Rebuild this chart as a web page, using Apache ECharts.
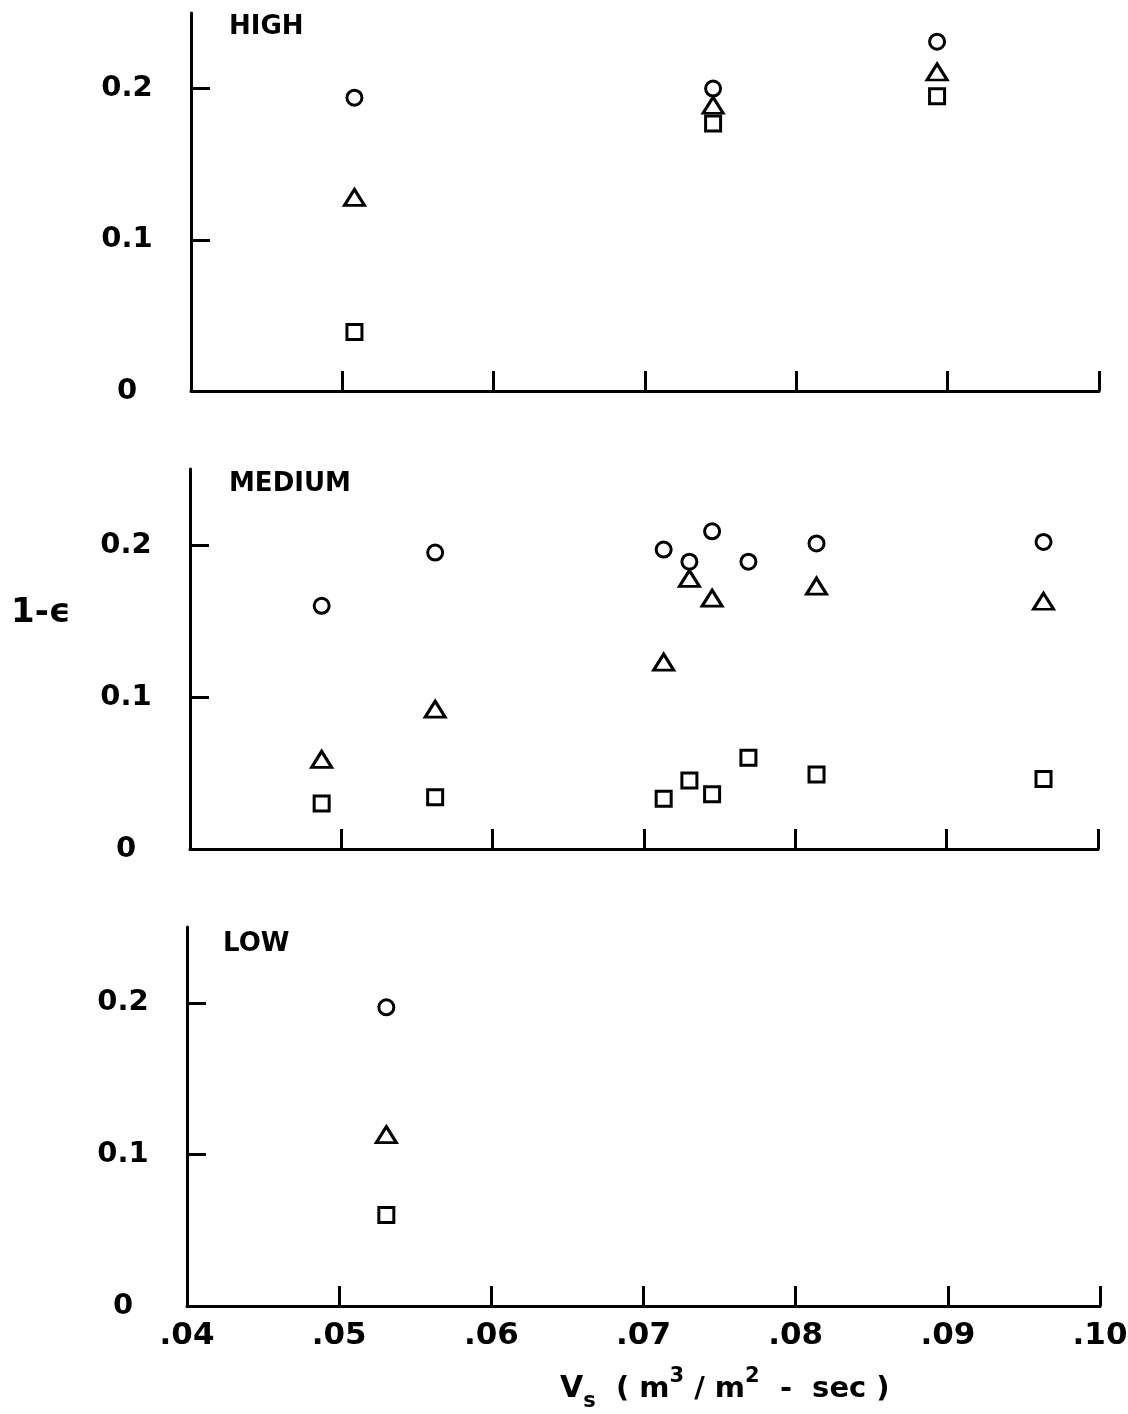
<!DOCTYPE html>
<html>
<head>
<meta charset="utf-8">
<title>1-ε versus Vs</title>
<script src="https://cdn.jsdelivr.net/npm/echarts@6/dist/echarts.min.js"></script>
<style>
  html, body { margin: 0; padding: 0; background: #fff; }
  #chart { width: 1128px; height: 1414px; }
</style>
</head>
<body>
<div id="chart"></div>
<script>
// Superficial velocity Vs (m3/m2-sec) and holdup 1-ε for three levels
const panelNames = ['HIGH', 'MEDIUM', 'LOW'];

const highVs       = [0.0508, 0.0745, 0.0893];
const highCircle   = [0.194, 0.200, 0.231];
const highTriangle = [0.128, 0.189, 0.211];
const highSquare   = [0.039, 0.177, 0.195];

const medVs        = [0.0487, 0.0562, 0.0713, 0.0730, 0.0745, 0.0769, 0.0814, 0.0964];
const medCircle    = [0.160, 0.195, 0.197, 0.189, 0.209, 0.189, 0.201, 0.202];
const medTriangle  = [0.059, 0.092, 0.123, 0.178, 0.165, null, 0.173, 0.163];
const medSquare    = [0.030, 0.034, 0.033, 0.045, 0.036, 0.060, 0.049, 0.046];

const lowVs        = [0.0531];
const lowCircle    = [0.197];
const lowTriangle  = [0.113];
const lowSquare    = [0.060];

const xTickValues = [0.04, 0.05, 0.06, 0.07, 0.08, 0.09, 0.10];
const xTickLabels = ['.04', '.05', '.06', '.07', '.08', '.09', '.10'];
const yTickValues = [0, 0.1, 0.2];
const yTickLabels = ['0', '0.1', '0.2'];

const panels = [
  { vs: highVs, c: highCircle, t: highTriangle, s: highSquare },
  { vs: medVs,  c: medCircle,  t: medTriangle,  s: medSquare },
  { vs: lowVs,  c: lowCircle,  t: lowTriangle,  s: lowSquare }
];

const FONT = 'DejaVu Sans';
const INK = '#000';

// pixel frame of each panel
const frames = [
  { left: 191, top: 13,  width: 908, height: 378 },
  { left: 190, top: 469, width: 908, height: 380 },
  { left: 187, top: 927, width: 913, height: 379 }
];

const pairs = (xs, ys) => xs.map((x, i) => [x, ys[i]]).filter(p => p[1] !== null);

const grid = [], xAxis = [], yAxis = [], series = [];
frames.forEach((f, i) => {
  grid.push(Object.assign({ containLabel: false, outerBoundsMode: 'none' }, f));
  xAxis.push({
    type: 'value', gridIndex: i,
    min: 0.04, max: 0.10, interval: 0.01,
    axisLine: { show: true, onZero: false, lineStyle: { color: INK, width: 3 } },
    axisTick: { show: true, inside: true, length: 20, customValues: xTickValues.slice(1),
                lineStyle: { color: INK, width: 3 } },
    axisLabel: {
      show: i === 2, margin: 14, customValues: xTickValues,
      color: INK, fontFamily: FONT, fontSize: 31, fontWeight: 'bold',
      formatter: v => xTickLabels[Math.round(v * 100) - 4]
    },
    splitLine: { show: false }
  });
  yAxis.push({
    type: 'value', gridIndex: i,
    min: 0, max: 0.25,
    axisLine: { show: true, onZero: false, lineStyle: { color: INK, width: 3 } },
    axisTick: { show: true, inside: true, length: 19, customValues: [0.1, 0.2],
                lineStyle: { color: INK, width: 3 } },
    axisLabel: {
      show: true, margin: 64, align: 'center', customValues: yTickValues,
      color: INK, fontFamily: FONT, fontSize: 29, fontWeight: 'bold',
      formatter: v => yTickLabels[Math.round(v * 10)]
    },
    splitLine: { show: false }
  });
  const p = panels[i];
  const base = {
    type: 'scatter', xAxisIndex: i, yAxisIndex: i,
    itemStyle: { color: 'transparent', borderColor: INK, borderWidth: 3, opacity: 1 },
    emphasis: { disabled: true }, silent: true
  };
  series.push(Object.assign({}, base, { name: 'circles',   symbol: 'circle',   symbolSize: 15,       data: pairs(p.vs, p.c) }));
  series.push(Object.assign({}, base, { name: 'triangles', symbol: 'triangle', symbolSize: [20, 16], data: pairs(p.vs, p.t) }));
  series.push(Object.assign({}, base, { name: 'squares',   symbol: 'rect',     symbolSize: 15,       data: pairs(p.vs, p.s) }));
});

const panelLabelPos = [[229, 14], [229, 471], [223, 931]];

const graphic = panelNames.map((name, i) => ({
  type: 'text', left: panelLabelPos[i][0], top: panelLabelPos[i][1],
  style: { text: name, fill: INK, font: 'bold 26px "' + FONT + '"' }
}));

graphic.push({
  type: 'text', left: 11, top: 596,
  style: { text: '1-ϵ', fill: INK, font: 'bold 34px "' + FONT + '"' }
});

graphic.push({
  type: 'text', left: 560, top: 1366,
  style: {
    text: '{v|V}{sub|s}{t|  ( m}{sup|3}{t| / m}{sup|2}{t|  -  sec )}',
    fill: INK,
    rich: {
      v:   { fontFamily: FONT, fontSize: 30, fontWeight: 'bold', fill: INK, lineHeight: 46, verticalAlign: 'middle' },
      sub: { fontFamily: FONT, fontSize: 21, fontWeight: 'bold', fill: INK, lineHeight: 46, verticalAlign: 'bottom' },
      t:   { fontFamily: FONT, fontSize: 29, fontWeight: 'bold', fill: INK, lineHeight: 46, verticalAlign: 'middle' },
      sup: { fontFamily: FONT, fontSize: 21, fontWeight: 'bold', fill: INK, lineHeight: 46, verticalAlign: 'top' }
    }
  }
});

const chart = echarts.init(document.getElementById('chart'), null, { renderer: 'canvas' });
chart.setOption({
  backgroundColor: '#fff',
  animation: false,
  grid, xAxis, yAxis, series, graphic
});
</script>
</body>
</html>
